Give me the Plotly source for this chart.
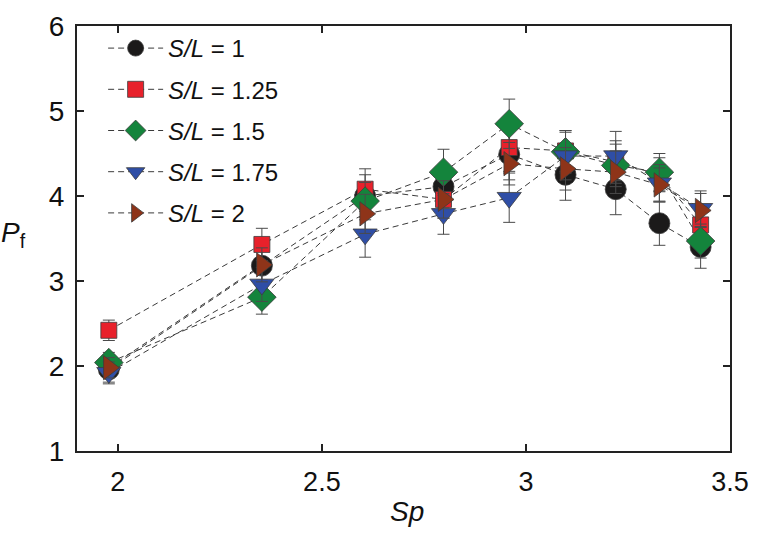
import plotly.graph_objects as go

# ---- data ----
sp = [1.978, 2.353, 2.606, 2.798, 2.959, 3.097, 3.220, 3.327, 3.428]

series_names = ["<i>S/L</i> = 1", "<i>S/L</i> = 1.25", "<i>S/L</i> = 1.5",
                "<i>S/L</i> = 1.75", "<i>S/L</i> = 2"]

pf_1    = [1.96, 3.18, 4.00, 4.11, 4.49, 4.25, 4.08, 3.68, 3.40]
pf_125  = [2.42, 3.43, 4.08, 3.96, 4.57, 4.53, 4.40, 4.25, 3.66]
pf_15   = [2.04, 2.81, 3.94, 4.28, 4.85, 4.52, 4.36, 4.28, 3.47]
pf_175  = [1.92, 2.96, 3.55, 3.79, 3.98, 4.47, 4.47, 4.15, 3.85]
pf_2    = [1.98, 3.19, 3.79, 3.96, 4.38, 4.32, 4.28, 4.13, 3.83]

err_1   = [0.15, 0.20, 0.25, 0.25, 0.30, 0.30, 0.30, 0.26, 0.25]
err_125 = [0.12, 0.19, 0.24, 0.22, 0.28, 0.24, 0.25, 0.20, 0.20]
err_15  = [0.12, 0.20, 0.22, 0.27, 0.29, 0.25, 0.25, 0.22, 0.20]
err_175 = [0.13, 0.20, 0.27, 0.24, 0.29, 0.28, 0.29, 0.22, 0.21]
err_2   = [0.12, 0.20, 0.23, 0.22, 0.25, 0.25, 0.25, 0.20, 0.20]

x_ticks = [2, 2.5, 3, 3.5]
x_tick_text = ["2", "2.5", "3", "3.5"]
y_ticks = [1, 2, 3, 4, 5, 6]

# ---- styles ----
values = [pf_1, pf_125, pf_15, pf_175, pf_2]
errors = [err_1, err_125, err_15, err_175, err_2]
colors = ["#1b1a1a", "#e8212b", "#14843c", "#2f4ea6", "#8e3419"]
symbols = ["circle", "square", "diamond", "triangle-down", "triangle-right"]
sizes = [21, 16, 22, 21, 21]

FONT = "Liberation Sans, Arial, Helvetica, sans-serif"
line_style = dict(color="#3a3a3a", width=1, dash="6px,4px")

fig = go.Figure()

# dashed connecting lines first (under all markers)
for v in values:
    fig.add_trace(go.Scatter(x=sp, y=v, mode="lines", line=line_style,
                             showlegend=False, hoverinfo="skip"))

# markers with error bars
for v, e, c, s, sz in zip(values, errors, colors, symbols, sizes):
    fig.add_trace(go.Scatter(
        x=sp, y=v, mode="markers", showlegend=False,
        marker=dict(color=c, symbol=s, size=sz,
                    line=dict(color="#3c3c3c", width=0.8)),
        error_y=dict(type="data", array=e, visible=True,
                     color="#4a4a4a", thickness=1, width=6)))

# legend entries
for i, (n, c, s, sz) in enumerate(zip(series_names, colors, symbols, sizes)):
    fig.add_trace(go.Scatter(
        x=[None], y=[None], mode="lines+markers", name=n,
        legendgroup=f"g{i}",
        line=dict(color="#3a3a3a", width=1, dash="6px,4px"),
        marker=dict(color=c, symbol=s, size=sz,
                    line=dict(color="#3c3c3c", width=0.8))))

axis_common = dict(showline=True, linecolor="#222", linewidth=2, mirror="ticks",
                   ticks="inside", ticklen=7, tickwidth=2, tickcolor="#222",
                   showgrid=False, zeroline=False, ticklabeloverflow="allow")

fig.update_layout(
    width=760, height=534,
    margin=dict(l=77, r=20, t=11, b=83),
    paper_bgcolor="white", plot_bgcolor="white",
    font=dict(family=FONT, color="#111"),
    xaxis=dict(range=[1.9, 3.5], tickvals=x_ticks, ticktext=x_tick_text,
               ticklabelstandoff=6,
               tickfont=dict(family=FONT, size=27, color="#111"), **axis_common),
    yaxis=dict(range=[1, 6], tickvals=y_ticks, ticklabelstandoff=5,
               tickfont=dict(family=FONT, size=28, color="#111"), **axis_common),
    legend=dict(x=0.04, y=1.0, xanchor="left", yanchor="top",
                bgcolor="rgba(0,0,0,0)", font=dict(family=FONT, size=24, color="#111"),
                tracegroupgap=7, traceorder="grouped", itemwidth=55),
    annotations=[
        dict(text="<i>Sp</i>", xref="paper", yref="paper", x=0.505, y=-0.142,
             xanchor="center", yanchor="middle", showarrow=False,
             font=dict(family=FONT, size=28, color="#111")),
        dict(text="<i>P</i><sub>f</sub>", xref="paper", yref="paper", x=-0.097, y=0.51,
             xanchor="center", yanchor="middle", showarrow=False,
             font=dict(family=FONT, size=28, color="#111")),
    ],
)

fig.write_html("out.html", config={"displayModeBar": False},
               post_script="document.body.style.margin='0';document.body.style.overflow='hidden';")
